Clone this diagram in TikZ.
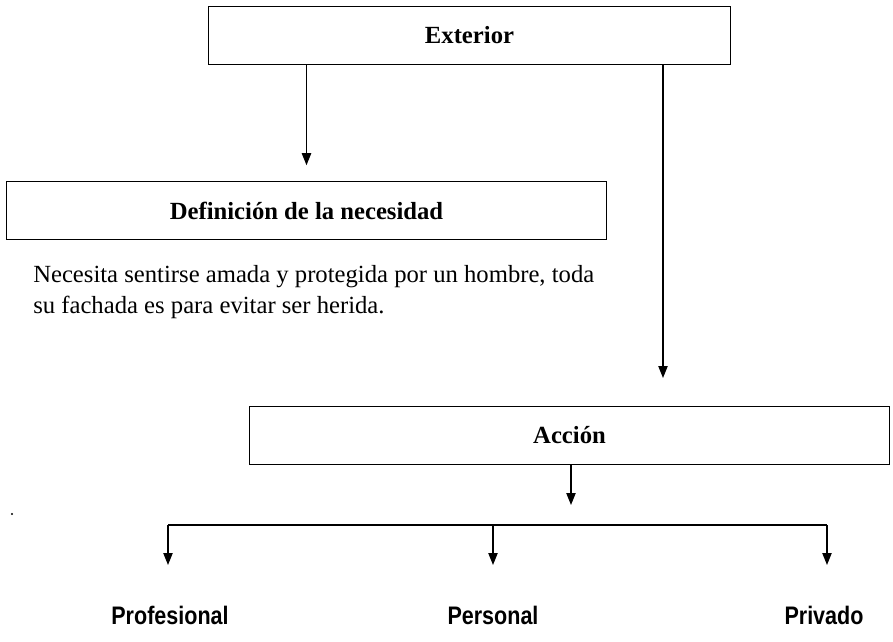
\documentclass[tikz,border=0pt]{standalone}
\usepackage{fontspec}
\setmainfont{Liberation Serif}
\newfontfamily\etiq{Liberation Sans}
\usepackage{tikz}
\usetikzlibrary{arrows.meta,calc}

\begin{document}
\begin{tikzpicture}[x=0.75pt,y=-0.75pt,
	caja/.style={draw,line width=0.9pt,inner sep=0pt,font=\fontsize{18.5}{22}\selectfont\bfseries},
	flecha/.style={line width=0.9pt,-{Triangle[length=9pt,width=7pt]}},
	rama/.style={font=\etiq\bfseries\fontsize{19}{22}\selectfont}]
\useasboundingbox (0,0) rectangle (893,642);
\node[caja,minimum width=392pt,minimum height=44pt] (ext) at (469.5,35.5){Exterior};
\node[caja,minimum width=450pt,minimum height=43pt] (defi) at (306.5,210.5){Definición de la necesidad};
\node[caja,minimum width=480pt,minimum height=44pt] (accion) at (569.5,435.5){Acción};
\node[anchor=base west,align=left,inner sep=0pt,font=\fontsize{18.5}{23.25}\selectfont] (texto) at (33,313)
	{Necesita sentirse amada y protegida por un hombre, toda\\su fachada es para evitar ser herida.};
\coordinate (c1) at (663,378);
\coordinate (c2) at (571,505);
\draw[flecha] (ext.south -| defi.north) -- ([yshift=12pt]defi.north);
\draw[flecha] (ext.south -| c1) -- (c1);
\draw[flecha] (accion.south -| c2) -- (c2);
\coordinate (izq) at (168,525);
\coordinate (med) at (493,525);
\coordinate (der) at (827,525);
\draw[line width=0.9pt] (izq) -- (der);
\foreach \n in {izq,med,der}{
	\draw[flecha] (\n) -- ++(0,40);
	}
\node[rama] (prof) at (170,615){\scalebox{0.85}[1]{Profesional}};
\node[rama] (pers) at (493,615){\scalebox{0.85}[1]{Personal}};
\node[rama] (priv) at (824,615){\scalebox{0.85}[1]{Privado}};
\fill (12,514) circle (0.9pt);
\end{tikzpicture}
\end{document}
